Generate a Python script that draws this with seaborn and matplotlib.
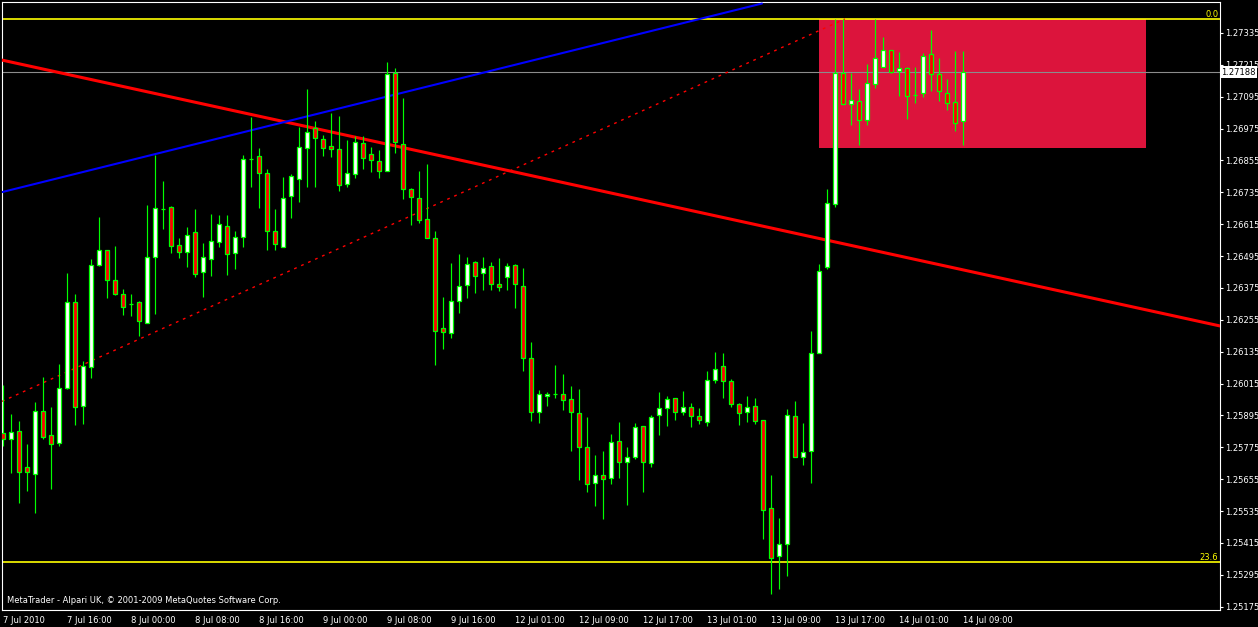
import numpy as np
import seaborn as sns
import matplotlib.pyplot as plt
from matplotlib.patches import Rectangle

# Dữ liệu nến H1 (mở, cao, thấp, đóng)
opens = [1.25828, 1.25805, 1.25835, 1.25700, 1.25674, 1.25911, 1.25820, 1.25790, 1.26000, 1.26321,
         1.25932, 1.26076, 1.26460, 1.26517, 1.26404, 1.26351, 1.26316, 1.26321, 1.26242, 1.26490,
         1.26671, 1.26679, 1.26536, 1.26509, 1.26585, 1.26434, 1.26485, 1.26547, 1.26607, 1.26506,
         1.26566, 1.26861, 1.26871, 1.26807, 1.26591, 1.26531, 1.26720, 1.26784, 1.26901, 1.26976,
         1.26935, 1.26908, 1.26897, 1.26765, 1.26803, 1.26920, 1.26878, 1.26852, 1.26814, 1.27183,
         1.26916, 1.26747, 1.26713, 1.26634, 1.26562, 1.26223, 1.26204, 1.26325, 1.26385, 1.26472,
         1.26430, 1.26457, 1.26389, 1.26415, 1.26460, 1.26381, 1.26110, 1.25907, 1.25967, 1.25977,
         1.25975, 1.25956, 1.25903, 1.25775, 1.25640, 1.25670, 1.25658, 1.25798, 1.25719, 1.25738,
         1.25854, 1.25715, 1.25896, 1.25922, 1.25960, 1.25907, 1.25926, 1.25892, 1.25869, 1.26027,
         1.26080, 1.26024, 1.25937, 1.25907, 1.25930, 1.25877, 1.25545, 1.25365, 1.25410, 1.25892,
         1.25738, 1.25760, 1.26129, 1.26453, 1.26690, 1.27183, 1.27067, 1.27078, 1.27006, 1.27142,
         1.27206, 1.27270, 1.27191, 1.27202, 1.27103, 1.27108, 1.27255, 1.27180, 1.27108, 1.27074,
         1.27003]
highs = [1.26010, 1.25901, 1.25874, 1.25788, 1.25946, 1.26040, 1.25927, 1.26089, 1.26431, 1.26352,
         1.26100, 1.26484, 1.26642, 1.26518, 1.26533, 1.26371, 1.26352, 1.26326, 1.26687, 1.26876,
         1.26778, 1.26684, 1.26562, 1.26605, 1.26672, 1.26543, 1.26654, 1.26650, 1.26650, 1.26590,
         1.26875, 1.27019, 1.26901, 1.26823, 1.26672, 1.26793, 1.26804, 1.26982, 1.27123, 1.27004,
         1.26951, 1.27034, 1.27023, 1.26932, 1.26947, 1.26947, 1.26905, 1.26894, 1.27226, 1.27203,
         1.27089, 1.26753, 1.26814, 1.26841, 1.26588, 1.26341, 1.26469, 1.26503, 1.26492, 1.26478,
         1.26492, 1.26473, 1.26488, 1.26468, 1.26464, 1.26449, 1.26171, 1.25991, 1.25982, 1.26084,
         1.26050, 1.26006, 1.25994, 1.25888, 1.25745, 1.25760, 1.25824, 1.25869, 1.25775, 1.25866,
         1.25854, 1.25896, 1.25982, 1.25967, 1.25960, 1.25986, 1.25941, 1.25922, 1.26061, 1.26133,
         1.26129, 1.26031, 1.25941, 1.25967, 1.25960, 1.25877, 1.25670, 1.25508, 1.25918, 1.25948,
         1.25866, 1.26212, 1.26464, 1.26747, 1.27388, 1.27388, 1.27183, 1.27123, 1.27217, 1.27388,
         1.27319, 1.27271, 1.27262, 1.27206, 1.27206, 1.27259, 1.27345, 1.27240, 1.27161, 1.27266,
         1.27266]
lows = [1.25781, 1.25677, 1.25567, 1.25612, 1.25527, 1.25808, 1.25619, 1.25781, 1.25996, 1.25860,
        1.25864, 1.26037, 1.26457, 1.26338, 1.26349, 1.26273, 1.26271, 1.26195, 1.26242, 1.26278,
        1.26598, 1.26508, 1.26489, 1.26455, 1.26418, 1.26342, 1.26421, 1.26530, 1.26424, 1.26448,
        1.26530, 1.26756, 1.26677, 1.26519, 1.26519, 1.26530, 1.26640, 1.26700, 1.26756, 1.26756,
        1.26872, 1.26869, 1.26741, 1.26756, 1.26790, 1.26824, 1.26813, 1.26790, 1.26814, 1.26882,
        1.26711, 1.26613, 1.26621, 1.26562, 1.26084, 1.26146, 1.26188, 1.26280, 1.26338, 1.26357,
        1.26369, 1.26369, 1.26365, 1.26366, 1.26299, 1.26061, 1.25875, 1.25866, 1.25930, 1.25960,
        1.25917, 1.25762, 1.25651, 1.25606, 1.25553, 1.25504, 1.25636, 1.25658, 1.25557, 1.25730,
        1.25606, 1.25700, 1.25820, 1.25854, 1.25877, 1.25896, 1.25850, 1.25862, 1.25854, 1.26016,
        1.25960, 1.25926, 1.25858, 1.25869, 1.25862, 1.25429, 1.25222, 1.25241, 1.25289, 1.25738,
        1.25707, 1.25640, 1.26129, 1.26445, 1.26679, 1.27067, 1.26990, 1.26912, 1.26990, 1.27127,
        1.27206, 1.27183, 1.27099, 1.27012, 1.27070, 1.27093, 1.27116, 1.27078, 1.27044, 1.26965,
        1.26912]
closes = [1.25805, 1.25832, 1.25683, 1.25681, 1.25911, 1.25815, 1.25786, 1.25997, 1.26321, 1.25928,
          1.26080, 1.26460, 1.26517, 1.26404, 1.26353, 1.26302, 1.26316, 1.26250, 1.26491, 1.26675,
          1.26671, 1.26532, 1.26509, 1.26573, 1.26429, 1.26491, 1.26551, 1.26615, 1.26502, 1.26566,
          1.26860, 1.26861, 1.26807, 1.26588, 1.26539, 1.26713, 1.26796, 1.26905, 1.26961, 1.26939,
          1.26901, 1.26897, 1.26762, 1.26807, 1.26924, 1.26863, 1.26856, 1.26814, 1.27180, 1.26924,
          1.26747, 1.26716, 1.26632, 1.26562, 1.26212, 1.26208, 1.26325, 1.26381, 1.26464, 1.26419,
          1.26449, 1.26389, 1.26378, 1.26457, 1.26389, 1.26110, 1.25907, 1.25975, 1.25975, 1.25977,
          1.25952, 1.25907, 1.25775, 1.25636, 1.25670, 1.25655, 1.25794, 1.25719, 1.25738, 1.25850,
          1.25719, 1.25888, 1.25922, 1.25956, 1.25907, 1.25926, 1.25892, 1.25877, 1.26027, 1.26069,
          1.26024, 1.25937, 1.25903, 1.25926, 1.25873, 1.25538, 1.25357, 1.25410, 1.25896, 1.25738,
          1.25756, 1.26129, 1.26438, 1.26694, 1.27183, 1.27067, 1.27082, 1.27006, 1.27146, 1.27240,
          1.27270, 1.27187, 1.27202, 1.27097, 1.27103, 1.27247, 1.27180, 1.27116, 1.27070, 1.26995,
          1.27188]

# Nhãn thời gian trên trục X (mỗi 8 nến)
time_labels = ['7 Jul 2010', '7 Jul 16:00', '8 Jul 00:00', '8 Jul 08:00', '8 Jul 16:00',
               '9 Jul 00:00', '9 Jul 08:00', '9 Jul 16:00', '12 Jul 01:00', '12 Jul 09:00',
               '12 Jul 17:00', '13 Jul 01:00', '13 Jul 09:00', '13 Jul 17:00', '14 Jul 01:00',
               '14 Jul 09:00']

# Các mức giá trên trục Y
price_ticks = [1.25175, 1.25295, 1.25415, 1.25535, 1.25655, 1.25775, 1.25895, 1.26015,
               1.26135, 1.26255, 1.26375, 1.26495, 1.26615, 1.26735, 1.26855, 1.26975,
               1.27095, 1.27215, 1.27335]

# Mức Fibonacci và giá bid hiện tại
fib_levels = [1.27388, 1.25343]
fib_names = ['0.0', '23.6']
bid_price = 1.27188

# Đường xu hướng (chỉ số nến, giá)
red_trend_x = [-0.16, 152.09]
red_trend_y = [1.27233, 1.26232]
blue_trend_x = [-0.16, 94.84]
blue_trend_y = [1.26736, 1.27446]
fib_base_x = [-0.16, 105.2]
fib_base_y = [1.25948, 1.27388]

# Vùng giá (hình chữ nhật)
zone_x = [101.96, 142.9]
zone_y = [1.26903, 1.27388]

x_range = [-0.1625, 152.09]
y_range = [1.251626, 1.274517]

sns.set_theme(style='dark', rc={'axes.facecolor': 'black', 'figure.facecolor': 'black'})
plt.rcParams['font.family'] = ['DejaVu Sans']

fig = plt.figure(figsize=(12.58, 6.27), dpi=100)
ax = fig.add_axes([2 / 1258, 17 / 627, 1218 / 1258, 608 / 627])
ax.set_facecolor('black')

# Vùng giá màu đỏ thẫm
ax.add_patch(Rectangle((zone_x[0], zone_y[0]), zone_x[1] - zone_x[0], zone_y[1] - zone_y[0],
                       facecolor='#DC143C', edgecolor='none', zorder=1))

# Các mức Fibonacci và đường bid
for lvl, name in zip(fib_levels, fib_names):
    ax.axhline(lvl, color='#FFFF00', lw=1.2, zorder=2)
    ax.text(0.9985, lvl, name, transform=ax.get_yaxis_transform(), ha='right', va='bottom',
            color='#FFFF00', fontsize=6, zorder=8)
ax.axhline(bid_price, color='#8C8C8C', lw=0.8, zorder=2)

# Đường xu hướng
sns.lineplot(x=fib_base_x, y=fib_base_y, ax=ax, color='#FF0000', linewidth=1.0,
             linestyle=(0, (2, 3.5)), zorder=3)
sns.lineplot(x=red_trend_x, y=red_trend_y, ax=ax, color='#FF0000', linewidth=2.2, zorder=3)
sns.lineplot(x=blue_trend_x, y=blue_trend_y, ax=ax, color='#0000FF', linewidth=1.5, zorder=3)

# Vẽ nến
idx = np.arange(len(opens))
o = np.array(opens)
c = np.array(closes)
body_colors = ['white' if cl >= op else '#FF0000' for op, cl in zip(opens, closes)]
ax.vlines(idx, lows, highs, colors='#00FF00', lw=0.85, zorder=5)
ax.bar(idx, c - o, bottom=o, width=0.52, color=body_colors, edgecolor='#00FF00',
       linewidth=0.9, zorder=6)

# Trục và khung
ax.set_xlim(x_range)
ax.set_ylim(y_range)
ax.grid(False)
for sp in ax.spines.values():
    sp.set_color('white')
    sp.set_linewidth(0.8)

ax.set_xticks(np.arange(0, len(opens), 8))
ax.set_xticklabels(time_labels, ha='left', fontsize=6, color='white')
ax.tick_params(axis='x', direction='out', length=3, width=0.8, colors='white', pad=1)

ax.yaxis.tick_right()
ax.set_yticks(price_ticks)
ax.set_yticklabels([f'{p:.5f}' for p in price_ticks], fontsize=6, color='white')
ax.tick_params(axis='y', direction='out', length=2.5, width=0.8, colors='white', pad=1.5)
ax.set_xlabel('')
ax.set_ylabel('')

# Nhãn giá bid trên trục (che một phần nhãn 1.27215 như bản gốc)
ax.text(1.001, bid_price, f'{bid_price:.5f}', transform=ax.get_yaxis_transform(),
        ha='left', va='center', fontsize=6, color='black', clip_on=False, zorder=10,
        bbox=dict(boxstyle='square,pad=0.15', facecolor='white', edgecolor='none'))

# Dòng bản quyền
ax.text(0.004, 0.015, 'MetaTrader - Alpari UK, © 2001-2009 MetaQuotes Software Corp.',
        transform=ax.transAxes, ha='left', va='center', fontsize=6, color='white', zorder=8)

fig.savefig('out.png', dpi=100, facecolor='black')
